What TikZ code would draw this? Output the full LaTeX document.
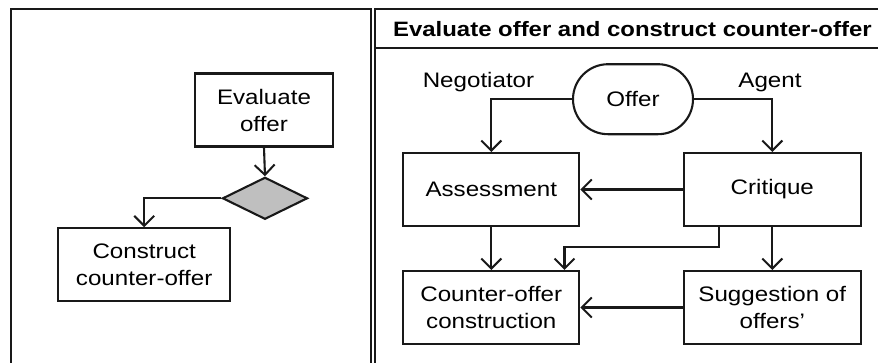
\documentclass[tikz,border=0pt]{standalone}
\usepackage{fontspec}
\setmainfont[FakeStretch=1.15]{Liberation Sans}
\usetikzlibrary{arrows.meta,shapes.geometric}
\begin{document}
\begin{tikzpicture}[x=1pt,y=-1pt,
  ln/.style={line width=2.1pt,draw=black!90},
  arr/.style={ln,-{Straight Barb[length=10pt,width=20pt,line width=2pt]}},
  box/.style={ln,rectangle,inner sep=0pt,align=center,
    font=\fontsize{21pt}{27pt}\selectfont,text=black},
  lbl/.style={inner sep=0pt,font=\fontsize{21pt}{27pt}\selectfont,text=black},
  panel/.style={line width=2.2pt,draw=black!90}]
\useasboundingbox (0,0) rectangle (878,362);
% panels
\draw[panel] (11,370) -- (11,9.3) -- (371,9.3) -- (371,370);
\draw[panel] (375.2,370) -- (375.2,9.3) -- (890,9.3);
\draw[panel] (375.2,48.3) -- (890,48.3);
\node[lbl,font=\bfseries\fontsize{20.8pt}{27pt}\selectfont] (title) at (632.4,28.8) {Evaluate offer and construct counter-offer};
% left diagram
\node[box,minimum width=138pt,minimum height=73pt] (eval) at (264,110) {Evaluate\\offer};
\node[ln,diamond,fill=black!25,inner sep=0pt,minimum width=85pt,minimum height=42pt] (dia) at (265,198.3) {};
\node[box,minimum width=171.7pt,minimum height=73pt] (cons) at (144.2,264.8) {Construct\\counter-offer};
\draw[arr] (eval.south) -- (dia.north);
\draw[arr] (dia.west) -| (cons.north);
% right diagram
\node[box,rounded corners=35pt,minimum width=120pt,minimum height=70pt] (offer) at (633,99.2) {Offer};
\node[lbl] (neg) at (478.5,82.5) {Negotiator};
\node[lbl] (agent) at (770,82.5) {Agent};
\node[box,minimum width=176pt,minimum height=73pt] (assess) at (491.3,189.5) {Assessment};
\node[box,minimum width=177pt,minimum height=73pt] (crit) at (772.3,189.5) {Critique};
\node[box,minimum width=176pt,minimum height=73pt] (coc) at (491.3,307.5) {Counter-offer\\construction};
\node[box,minimum width=177pt,minimum height=73pt] (sugg) at (772.3,307.5) {Suggestion of\\offers’};
\draw[arr] (offer.west) -| (assess.north);
\draw[arr] (offer.east) -| (crit.north);
\draw[arr] (crit.west) -- (assess.east);
\draw[arr] (assess.south) -- (coc.north);
\coordinate (bend) at (564.5,247.3);
\draw[arr] ([xshift=-53pt]crit.south) |- (bend) -- (bend |- coc.north);
\draw[arr] (crit.south) -- (sugg.north);
\draw[arr] (sugg.west) -- (coc.east);
\end{tikzpicture}
\end{document}
